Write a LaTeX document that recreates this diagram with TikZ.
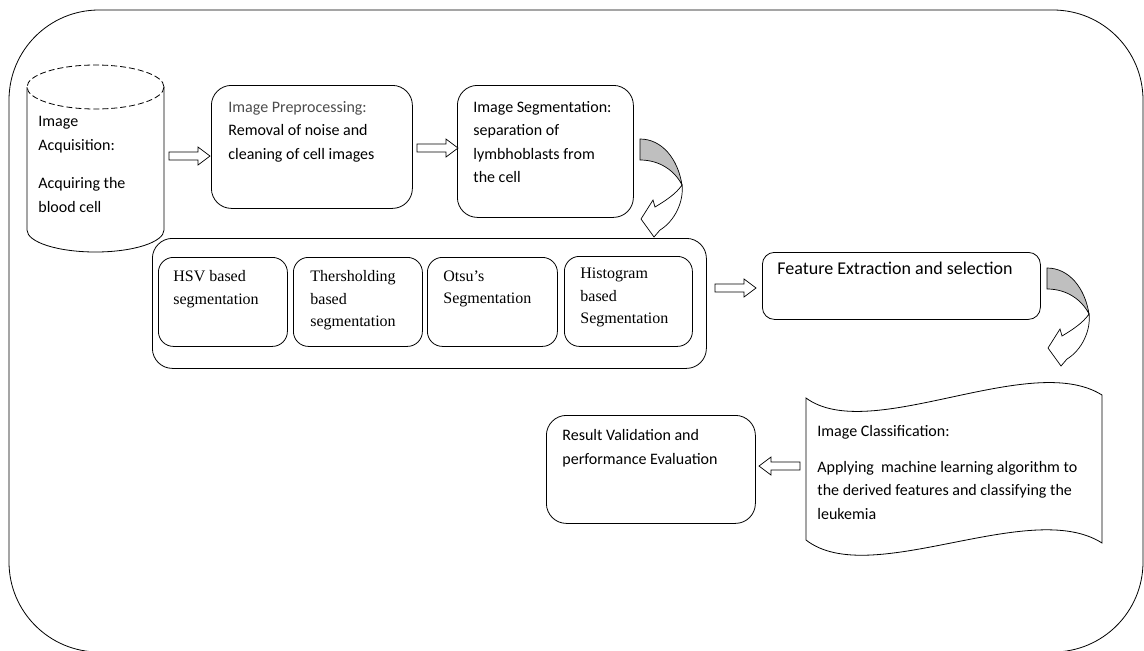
\documentclass[tikz,border=0pt]{standalone}
\usepackage{fontspec}
\setmainfont{Carlito}
\newfontfamily\timesf{Liberation Serif}
\begin{document}
\begin{tikzpicture}[x=1pt,y=-1pt,line width=0.8pt,
  box/.style={draw,rounded corners=#1,anchor=north west,inner sep=0pt},
  box/.default=20pt,
  cal/.style={anchor=north west,inner sep=0pt,align=left,font=\fontsize{16}{23.5}\selectfont},
  tms/.style={anchor=north west,inner sep=0pt,align=left,font=\timesf\fontsize{16}{22.5}\selectfont},
  harrow/.pic={\draw[fill=white,line width=0.7pt] (0,-4) -- (29,-4) -- (29,-9) -- (41,0) -- (29,9) -- (29,4) -- (0,4) -- cycle;},
  curvarr/.pic={
    \draw[fill=black!25,line width=0.7pt] (0,0) .. controls (22,0) and (38,20) .. (42,46) .. controls (35,32) and (20,21) .. (0,21) -- cycle;
    \draw[fill=white,line width=0.7pt] (42,46) .. controls (44,62) and (35,82) .. (20,91) -- (14,98) -- (1,80) -- (13,61) -- (15,68) .. controls (25,62) and (36,55) .. (42,46) -- cycle;}
]
\useasboundingbox (0,0) rectangle (1144,651);
% outer frame
\draw[rounded corners=90pt] (9,10) rectangle (1143,652);

% acquisition cylinder
\coordinate (acqc) at (95.5,87);
\draw[dash pattern=on 6pt off 3pt] (acqc) ellipse [x radius=68.5, y radius=22];
\draw (27,87) -- (27,230) arc[start angle=180,end angle=0,x radius=68.5,y radius=22] -- (164,87);
\node[cal,font=\fontsize{16}{24}\selectfont] (acqtxt) at (38,116) {Image\\Acquisition:\\[14pt]Acquiring the\\blood cell};

% preprocessing
\node[box,minimum width=201pt,minimum height=123pt] (pre) at (211,85) {};
\node[cal] (pretxt) at (228,101) {\textcolor{black!70}{Image Preprocessing:}\\Removal of noise and\\cleaning of cell images};

% segmentation
\node[box,minimum width=176pt,minimum height=132pt] (seg) at (457,85) {};
\node[cal] (segtxt) at (473,101) {Image Segmentation:\\separation of\\lymbhoblasts from\\the cell};

% container of methods
\node[box,minimum width=554pt,minimum height=130pt] (methods) at (152,238) {};
\node[box=15pt,minimum width=129pt,minimum height=89pt] (hsv) at (158,257) {};
\node[box=15pt,minimum width=129pt,minimum height=89pt] (thr) at (293,257) {};
\node[box=15pt,minimum width=130pt,minimum height=89pt] (otsu) at (427,257) {};
\node[box=15pt,minimum width=128pt,minimum height=90pt] (hist) at (564,256) {};
\node[tms] (hsvtxt) at (173,270) {HSV based\\segmentation};
\node[tms] (thrtxt) at (310,270) {Thersholding\\based\\segmentation};
\node[tms] (otsutxt) at (443,270) {Otsu’s\\Segmentation};
\node[tms] (histtxt) at (580,268) {Histogram\\based\\Segmentation};

% feature extraction
\node[box=12pt,minimum width=278pt,minimum height=67pt] (feat) at (762,252) {};
\node[cal,font=\fontsize{18}{24}\selectfont] (feattxt) at (777,262) {Feature Extraction and selection};

% result
\node[box,minimum width=209pt,minimum height=108pt] (res) at (546,415) {};
\node[cal,font=\fontsize{16}{24}\selectfont] (restxt) at (562,429) {Result Validation and\\performance Evaluation};

% classification (wave shape)
\draw (806,398) .. controls (870,445) and (1030,350) .. (1102,395) -- (1102,543)
      .. controls (1030,497) and (870,590) .. (806,540) -- cycle;
\node[cal] (clstxt) at (817,425) {Image Classification:\\[12pt]Applying\ \ machine learning algorithm to\\the derived features and classifying the\\leukemia};

% block arrows
\pic at (169,156) {harrow};
\pic at (417,148) {harrow};
\pic at (715,288) {harrow};
\pic[rotate=180] at (800,466) {harrow};

% curved arrows
\pic at (640,139) {curvarr};
\pic at (1047,268) {curvarr};
\end{tikzpicture}
\end{document}
